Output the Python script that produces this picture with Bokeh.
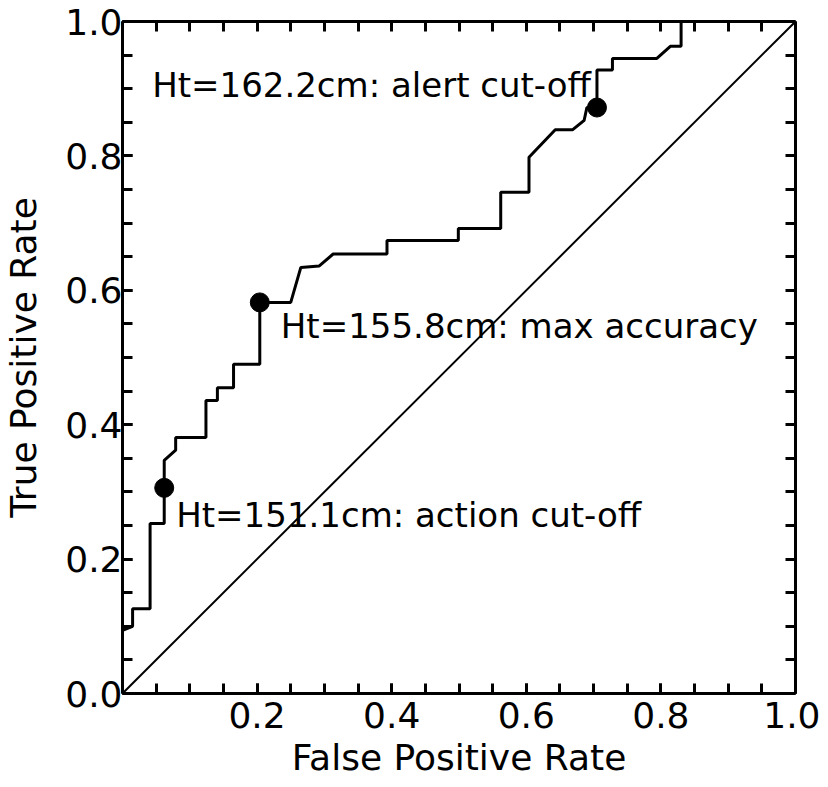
from bokeh.plotting import figure
from bokeh.models import Range1d, FixedTicker, LinearAxis, PrintfTickFormatter
from bokeh.embed import file_html
from bokeh.resources import INLINE
from bokeh.core.properties import value

# ROC curve vertices (False Positive Rate, True Positive Rate)
fpr = [0.0, 0.0, 0.015, 0.015, 0.041, 0.041, 0.062, 0.062, 0.079, 0.079,
       0.124, 0.124, 0.141, 0.141, 0.165, 0.165, 0.204, 0.204, 0.250, 0.265,
       0.292, 0.313, 0.393, 0.393, 0.499, 0.499, 0.562, 0.562, 0.604, 0.604,
       0.643, 0.669, 0.686, 0.690, 0.705, 0.705, 0.728, 0.728, 0.794, 0.814,
       0.830, 0.830, 1.0]
tpr = [0.0, 0.094, 0.100, 0.126, 0.126, 0.253, 0.253, 0.347, 0.362, 0.381,
       0.381, 0.436, 0.436, 0.455, 0.455, 0.490, 0.490, 0.582, 0.582, 0.634,
       0.636, 0.654, 0.654, 0.674, 0.674, 0.692, 0.692, 0.746, 0.746, 0.798,
       0.839, 0.839, 0.853, 0.872, 0.872, 0.928, 0.928, 0.945, 0.945, 0.963,
       0.963, 1.0, 1.0]

# chance line
diag_x = [0.0, 1.0]
diag_y = [0.0, 1.0]

# cut-off points
cut_fpr = [0.062, 0.204, 0.705]
cut_tpr = [0.306, 0.582, 0.872]
cut_labels = ["Ht=151.1cm: action cut-off",
              "Ht=155.8cm: max accuracy",
              "Ht=162.2cm: alert cut-off"]

# ticks
x_major = [0.2, 0.4, 0.6, 0.8, 1.0]
y_major = [0.0, 0.2, 0.4, 0.6, 0.8, 1.0]
minor = [0.0, 0.05, 0.1, 0.15, 0.2, 0.25, 0.3, 0.35, 0.4, 0.45, 0.5,
         0.55, 0.6, 0.65, 0.7, 0.75, 0.8, 0.85, 0.9, 0.95, 1.0]

FONT = "DejaVu Sans"

p = figure(frame_width=673, frame_height=672,
           x_range=Range1d(0, 1), y_range=Range1d(0, 1),
           output_backend="svg", toolbar_location=None,
           x_axis_location=None, y_axis_location=None,
           min_border_left=121, min_border_top=21,
           min_border_right=25, min_border_bottom=10,
           background_fill_color="white", border_fill_color="white")
p.outline_line_color = None
p.xgrid.visible = False
p.ygrid.visible = False


def style_axis(ax):
    ax.axis_line_width = 3
    ax.axis_line_color = "black"
    ax.major_tick_in = 10
    ax.major_tick_out = 0
    ax.minor_tick_in = 10
    ax.minor_tick_out = 0
    ax.major_tick_line_width = 3
    ax.minor_tick_line_width = 3
    ax.major_tick_line_color = "black"
    ax.minor_tick_line_color = "black"
    ax.major_label_text_font = FONT
    ax.major_label_text_color = "black"
    ax.major_label_text_font_size = "36px"
    ax.axis_label_text_font = FONT
    ax.axis_label_text_font_style = "normal"
    ax.axis_label_text_font_size = "36px"
    ax.axis_label_text_color = "black"


xb = LinearAxis(ticker=FixedTicker(ticks=x_major, minor_ticks=minor),
                formatter=PrintfTickFormatter(format="%.1f"),
                axis_label="False Positive Rate")
style_axis(xb)
xb.major_label_standoff = 8
xb.axis_label_standoff = 6
p.add_layout(xb, "below")

yl = LinearAxis(ticker=FixedTicker(ticks=y_major, minor_ticks=minor),
                formatter=PrintfTickFormatter(format="%.1f"),
                axis_label="True Positive Rate")
style_axis(yl)
yl.major_label_standoff = 0
yl.axis_label_standoff = 18
p.add_layout(yl, "left")

# frame sides: ticks only, no labels
xt = LinearAxis(ticker=FixedTicker(ticks=[], minor_ticks=minor))
style_axis(xt)
p.add_layout(xt, "above")

yr = LinearAxis(ticker=FixedTicker(ticks=[], minor_ticks=minor))
style_axis(yr)
p.add_layout(yr, "right")

p.line(diag_x, diag_y, line_color="black", line_width=2)
p.line(fpr, tpr, line_color="black", line_width=3)
p.scatter(cut_fpr, cut_tpr, size=19, fill_color="black", line_color="black")

# label placement relative to each point (screen pixels)
offsets = [(12, 27, "left"), (21, 24, "left"), (-6, -23, "right")]
for fx, ty, lbl, (dx, dy, al) in zip(cut_fpr, cut_tpr, cut_labels, offsets):
    p.text(x=[fx], y=[ty], text=[lbl], x_offset=dx, y_offset=dy,
           text_align=al, text_baseline="alphabetic",
           text_font=value(FONT), text_font_size="34px", text_color="black")

open("out.html", "w").write(file_html(p, INLINE))
